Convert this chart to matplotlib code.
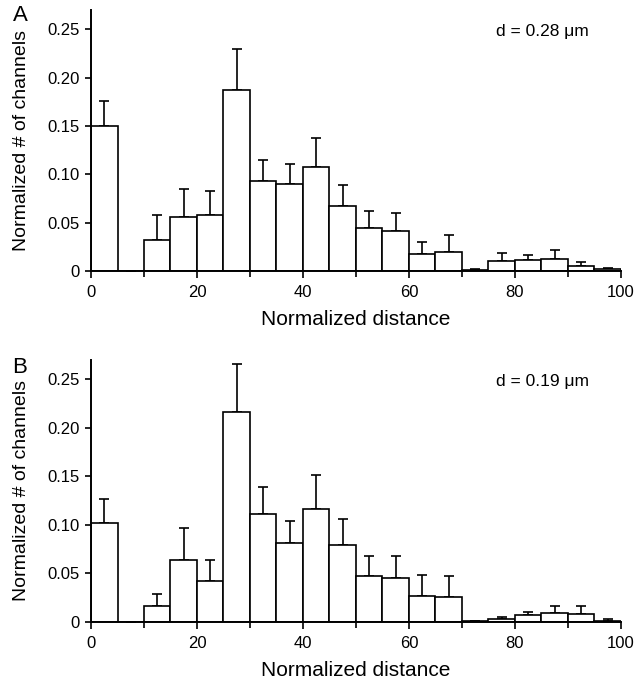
import matplotlib.pyplot as plt
import numpy as np

plt.rcParams['font.family'] = ['Liberation Sans', 'DejaVu Sans']

# bin left edges, width 5, over normalized distance 0-100
bin_edges = np.arange(0, 100, 5)

# panel A, d = 0.28 um
vals_a = [0.150, 0.0, 0.032, 0.056, 0.058, 0.187, 0.093, 0.090, 0.107, 0.067,
          0.044, 0.041, 0.018, 0.020, 0.0015, 0.010, 0.011, 0.0127, 0.005, 0.002]
err_a = [0.026, 0.0, 0.026, 0.029, 0.025, 0.043, 0.022, 0.021, 0.030, 0.022,
         0.018, 0.019, 0.012, 0.017, 0.0005, 0.0085, 0.006, 0.009, 0.0043, 0.001]

# panel B, d = 0.19 um
vals_b = [0.102, 0.0, 0.017, 0.064, 0.042, 0.216, 0.111, 0.081, 0.116, 0.079,
          0.047, 0.045, 0.027, 0.026, 0.001, 0.003, 0.007, 0.009, 0.0085, 0.0015]
err_b = [0.025, 0.0, 0.012, 0.033, 0.022, 0.050, 0.028, 0.023, 0.035, 0.027,
         0.021, 0.023, 0.021, 0.021, 0.0005, 0.002, 0.003, 0.007, 0.0085, 0.0015]

panels = [('A', vals_a, err_a, 'd = 0.28 \u03bcm'),
          ('B', vals_b, err_b, 'd = 0.19 \u03bcm')]

fig = plt.figure(figsize=(6.4, 6.81), dpi=100)
ax_rects = [[0.1422, 0.6021, 0.828, 0.3834],
            [0.1422, 0.0866, 0.828, 0.3853]]
letter_pos = [(0.032, 0.977), (0.031, 0.460)]

for (letter, vals, errs, note), rect, lpos in zip(panels, ax_rects, letter_pos):
    ax = fig.add_axes(rect)
    centers = bin_edges + 2.5
    ax.bar(bin_edges, vals, width=5, align='edge', color='white',
           edgecolor='black', linewidth=1.2, zorder=2)
    # upward-only error bars
    ax.errorbar(centers, vals, yerr=[np.zeros(len(errs)), errs], fmt='none',
                ecolor='black', elinewidth=1.2, capsize=3.5, capthick=1.2, zorder=1)

    ax.set_xlim(0, 100)
    ax.set_ylim(0, 0.27)
    ax.set_xticks([0, 20, 40, 60, 80, 100])
    ax.set_xticks([10, 30, 50, 70, 90], minor=True)
    ax.set_yticks([0, 0.05, 0.10, 0.15, 0.20, 0.25])
    ax.set_yticklabels(['0', '0.05', '0.10', '0.15', '0.20', '0.25'])
    ax.tick_params(axis='both', direction='out', labelsize=12, width=1.2)
    ax.tick_params(axis='x', which='major', length=5, pad=5)
    ax.tick_params(axis='x', which='minor', length=4, width=1.2)
    ax.tick_params(axis='y', length=4, pad=4)

    for side in ['top', 'right']:
        ax.spines[side].set_visible(False)
    for side in ['left', 'bottom']:
        ax.spines[side].set_linewidth(1.4)

    ax.set_xlabel('Normalized distance', fontsize=15, labelpad=7)
    ax.set_ylabel('Normalized # of channels', fontsize=14)
    ax.yaxis.set_label_coords(-0.115, 0.5)

    ax.text(76.5, 0.248, note, fontsize=12.5, va='center', ha='left')
    fig.text(lpos[0], lpos[1], letter, fontsize=16, ha='center', va='center')

fig.savefig('out.png', dpi=100)
